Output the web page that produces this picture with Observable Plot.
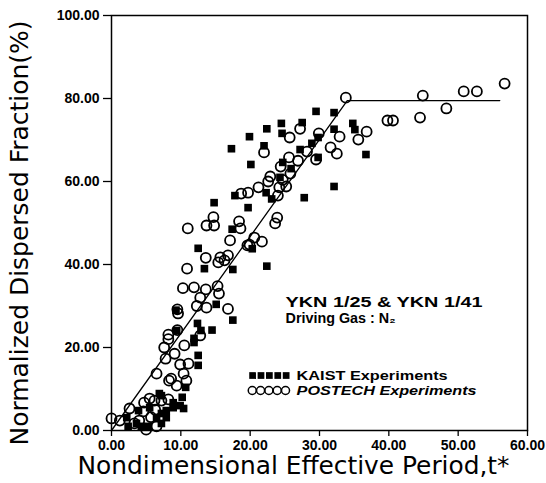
<!DOCTYPE html>
<html><head><meta charset="utf-8">
<script src="https://cdn.jsdelivr.net/npm/d3@7"></script>
<script src="https://cdn.jsdelivr.net/npm/@observablehq/plot@0.6"></script>
<style>body{margin:0;background:#fff}</style>
</head><body><div id="chart"></div>
<script>
// KAIST experiments (filled squares): nondimensional period t*, dispersed fraction %
const kaistT = [19.9,17.3,20.1,22.4,24.5,27.5,24.6,22.0,29.5,32.1,27.2,28.9,29.8,32.1,34.8,35.1,36.7,29.8,24.7,25.9,24.3,22.3,27.8,32.1,14.8,17.8,19.7,23.1,17.4,20.3,22.4,17.5,13.4,12.5,
  15.1,17.5,12.4,12.9,14.5,11.9,12.5,12.5,11.9,9.3,9.4,10.7,10.2,8.9,7.2,6.9,9.9,6.5,7.9,3.9,2.2,7.9,7.2,10.4,5.5,8.9,3.6,7.2,2.4,4.3,5.3];
const kaistV = [70.8,67.9,64.1,72.7,74.0,74.2,71.6,68.6,76.9,76.6,67.7,69.2,70.6,72.6,74.0,72.5,66.5,65.8,64.6,63.1,61.0,57.3,56.1,58.8,54.9,56.6,53.7,55.8,48.5,43.8,39.6,38.8,39.0,43.9,
  30.4,26.6,25.8,24.1,24.2,22.2,18.1,15.7,21.2,29.0,24.1,10.4,8.0,5.5,8.4,8.9,6.0,2.9,3.1,4.8,3.1,4.8,4.1,5.3,5.5,6.7,1.7,1.7,1.0,1.0,1.0];
// POSTECH experiments (open circles)
const postechT = [33.8,44.9,50.8,52.7,56.7,48.3,44.5,39.8,40.6,36.8,35.6,32.9,31.6,32.5,29.9,27.2,25.7,28.2,26.9,25.6,29.5,24.4,25.8,22.9,22.6,24.7,25.2,24.2,24.0,22.0,18.7,19.7,21.2,
  14.7,13.7,14.8,11.0,18.4,18.6,23.9,23.6,17.1,20.6,21.7,19.6,16.3,16.8,13.6,15.7,15.4,10.9,19.9,
  10.3,11.9,13.6,15.3,15.5,12.8,12.3,13.7,16.8,9.5,9.6,9.5,8.2,12.8,8.2,10.5,7.6,7.8,9.1,9.9,11.1,10.4,6.5,8.3,10.8,9.4,8.6,
  0.0,1.2,2.6,4.7,5.5,6.2,7.2,8.2,4.6,4.0,5.0,3.3,6.3,5.7,6.5];
const postechV = [80.2,80.7,81.7,81.7,83.6,77.6,75.4,74.7,74.7,72.0,70.1,70.8,68.2,66.7,71.6,72.7,70.6,67.2,65.0,65.8,65.3,63.6,61.9,61.2,60.0,60.4,58.8,58.6,56.6,67.0,57.1,57.3,58.6,
  51.4,49.4,49.4,48.7,50.4,48.7,51.3,49.9,45.8,46.5,45.5,44.6,41.0,42.2,41.6,41.7,40.5,39.0,44.8,
  34.3,34.5,34.0,34.8,33.0,32.0,30.0,29.6,29.3,29.2,28.2,24.2,22.0,22.9,23.1,20.5,20.0,17.3,18.5,15.9,16.1,13.7,13.7,12.0,12.0,10.8,12.5,
  2.9,2.4,5.3,6.7,7.7,7.2,7.2,7.5,4.6,2.4,0.2,1.7,5.0,3.2,1.0];
// correlation line
const lineT = [0, 34, 56];
const lineV = [0, 79.5, 79.5];
const xTicks = [0, 10, 20, 30, 40, 50, 60];
const yTicks = [0, 20, 40, 60, 80, 100];

const kaist = kaistT.map((t, i) => ({t, v: kaistV[i]}));
const postech = postechT.map((t, i) => ({t, v: postechV[i]}));
const corr = lineT.map((t, i) => ({t, v: lineV[i]}));
const fmt = d3.format(".2f");

const legSq = d3.range(5).map(i => ({t: 20.35 + i * 1.21, v: 13.25}));
const legCi = d3.range(5).map(i => ({t: 20.3 + i * 1.2, v: 9.64}));

const plot = Plot.plot({
  width: 546, height: 483,
  marginLeft: 111, marginRight: 19, marginTop: 15, marginBottom: 53,
  style: {fontFamily: "'Liberation Sans', Arial, sans-serif", background: "#fff", color: "#000"},
  x: {domain: [0, 60]},
  y: {domain: [0, 100]},
  marks: [
    Plot.frame({stroke: "#000", strokeWidth: 1.5}),
    Plot.axisX(xTicks, {tickFormat: fmt, tickSize: 6, tickPadding: 4, fontSize: 14, fontWeight: "bold", label: null, strokeWidth: 1.3}),
    Plot.axisY(yTicks, {tickFormat: fmt, tickSize: 8, tickPadding: 4, fontSize: 14, fontWeight: "bold", label: null, strokeWidth: 1.3}),
    Plot.line(corr, {x: "t", y: "v", stroke: "#000", strokeWidth: 1.3}),
    Plot.dot(kaist, {x: "t", y: "v", symbol: "square", r: 4.3, fill: "#000", stroke: "none"}),
    Plot.dot(postech, {x: "t", y: "v", r: 5, fill: "none", stroke: "#000", strokeWidth: 1.8}),
    Plot.text(["YKN 1/25 & YKN 1/41"], {x: () => 25.1, y: () => 30.8, text: d => d, textAnchor: "start", fontSize: 14, fontWeight: "bold"}),
    Plot.text(["Driving Gas : N\u2082"], {x: () => 25.1, y: () => 27.0, text: d => d, textAnchor: "start", fontSize: 14, fontWeight: "bold"}),
    Plot.dot(legSq, {x: "t", y: "v", symbol: "square", r: 3.8, fill: "#000", stroke: "none"}),
    Plot.dot(legCi, {x: "t", y: "v", r: 4, fill: "none", stroke: "#000", strokeWidth: 1.5}),
    Plot.text(["KAIST Experiments"], {x: () => 26.7, y: () => 13.25, text: d => d, textAnchor: "start", fontSize: 13, fontWeight: "bold"}),
    Plot.text(["POSTECH Experiments"], {x: () => 26.7, y: () => 9.64, text: d => d, textAnchor: "start", fontSize: 13, fontWeight: "bold", fontStyle: "italic"}),
    Plot.text(["Normalized Dispersed Fraction(%)"], {frameAnchor: "left", rotate: -90, dx: -91, dy: 10, text: d => d, textAnchor: "middle", lineAnchor: "middle", fontSize: 24, fontFamily: "'DejaVu Sans', sans-serif", fontWeight: "normal", fill: "#000"}),
    Plot.text(["Nondimensional Effective Period,t*"], {frameAnchor: "bottom", dx: -26, dy: 36, text: d => d, textAnchor: "middle", lineAnchor: "middle", fontSize: 24, fontFamily: "'DejaVu Sans', sans-serif", fontWeight: "normal", fill: "#000"})
  ]
});

const lengths = {
  "Normalized Dispersed Fraction(%)": 425,
  "Nondimensional Effective Period,t*": 432,
  "YKN 1/25 & YKN 1/41": 197,
  "Driving Gas : N\u2082": 110,
  "KAIST Experiments": 151,
  "POSTECH Experiments": 180
};
plot.querySelectorAll("text").forEach(el => {
  const L = lengths[el.textContent];
  if (L) { el.setAttribute("textLength", L); el.setAttribute("lengthAdjust", "spacingAndGlyphs"); }
});
document.getElementById("chart").appendChild(plot);
</script>
</body></html>
